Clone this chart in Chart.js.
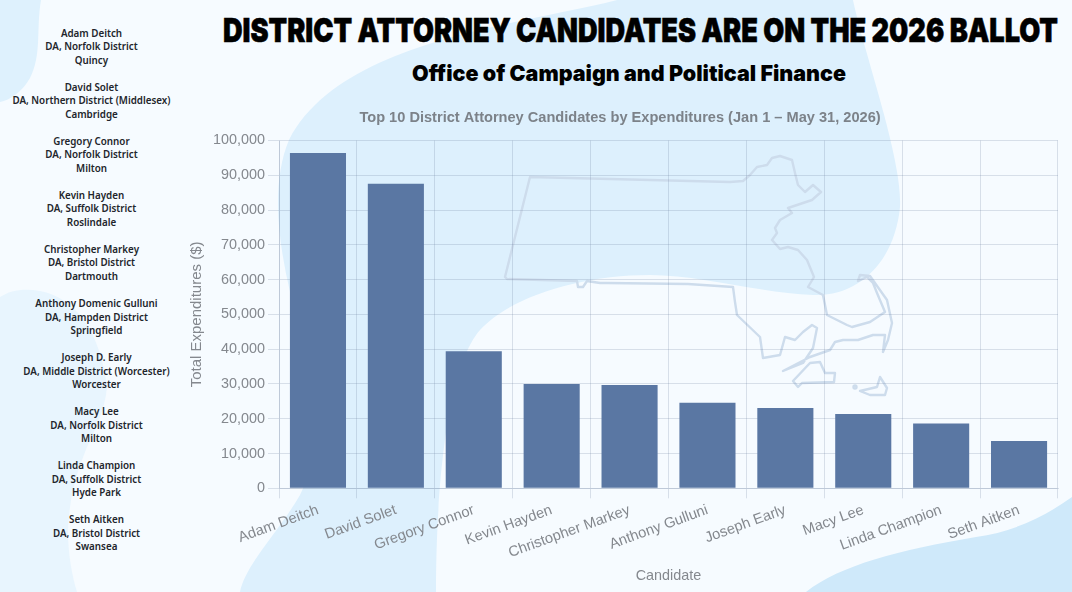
<!DOCTYPE html>
<html lang="en">

<head>
  <meta charset="UTF-8">
  <title>District Attorney Candidates</title>
  <style>
    html, body { margin: 0; padding: 0; }
    body { width: 1072px; height: 592px; overflow: hidden; position: relative; background: #f6fbff; }
    #backdrop { position: absolute; left: 0; top: 0; }
    #chartBox { position: absolute; left: 182px; top: 100px; width: 880px; height: 492px; }
    #roster { position: absolute; left: 0; top: 26.5px; width: 183px; text-align: center; font: 600 9.8px/13.55px "Noto Sans", sans-serif; color: #22252b; }
    #roster div { height: 54.1px; }
    #roster div:nth-child(n+6) { transform: translateX(5px); }
  </style>
</head>

<body>
  <svg id="backdrop" width="1072" height="592" viewBox="0 0 1072 592">
    <!-- background shapes -->
    <path fill="#ddf0fd" d="M617 0 C520 25 340 40 289 140 C268 190 280 260 300 330 C315 400 318 460 300 495 C280 530 245 565 240 592 L436 592 C436 500 445 370 480 330 C510 297 580 275 650 275 C700 275 760 293 813 295 C860 297 895 260 900 207 C902 170 880 100 861 33 C858 20 855 10 853 0 Z"/>
    <path fill="#def1fd" d="M0 0 L41 0 C36 30 42 55 30 78 C22 92 10 100 0 102 Z"/>
    <path fill="#e8f5fe" d="M0 297 C10 290 25 288 40 291 C75 298 100 330 107 387 C105 410 95 430 87 447 C78 470 70 490 68 530 C68 555 72 575 77 592 L0 592 Z"/>
    <path fill="#cfe9fa" d="M1072 497 C1040 520 1010 532 976 537 C900 550 840 565 806 592 L1072 592 Z"/>

    <!-- state outline -->
    <g fill="none" stroke="#cddcec" stroke-width="2.4" stroke-linejoin="round" stroke-linecap="round">
      <path d="M505 277 L530 177 L730 182 L743 181 L750 175 L757 167 L767 165 L772 158 L780 156 L792 160 L795 173 L798 185 L805 192 L813 185 L821 192 L812 200 L788 208 L792 213 L780 220 L775 228 L777 233 L772 240 L780 249 L788 247 L798 250 L807 260 L814 277 L808 287 L823 295 L827 315 L847 325 L852 327 L870 322 L885 312 L877 293 L873 283 L867 277 L858 281 L860 275 L870 276 L887 300 L892 323 L888 340 L883 352 L885 335 L873 335 L858 340 L843 340 L835 342 L830 350 L810 357 L783 371 L803 363 L813 348 L817 328 L812 325 L803 332 L795 340 L785 337 L780 355 L763 358 L760 337 L737 315 L735 302 L733 287 L688 284 L607 283 L600 283 L587 281 L583 287 L578 287 L577 281 L507 279 Z"/>
      <path d="M793 381 L810 363 L820 362 L825 373 L835 373 L834 382 L802 383 L798 387 Z"/>
      <path d="M860 391 L877 387 L880 377 L887 388 L885 395 L870 395 Z"/>
      <circle cx="855" cy="387" r="1.5"/>
    </g>

    <text x="223" y="42" textLength="835" lengthAdjust="spacingAndGlyphs" font-family="Inter" font-weight="900" font-size="33" fill="#000" stroke="#000" stroke-width="0.6">DISTRICT ATTORNEY CANDIDATES ARE ON THE 2026 BALLOT</text>
    <text x="412" y="81" textLength="434" lengthAdjust="spacingAndGlyphs" font-family="Inter" font-weight="900" font-size="22" fill="#000">Office of Campaign and Political Finance</text>
  </svg>

  <div id="roster"></div>

  <div id="chartBox">
    <canvas id="myChart" width="880" height="492"></canvas>
  </div>

  <script src="https://cdn.jsdelivr.net/npm/chart.js"></script>

  <script>
    const candidates = ['Adam Deitch', 'David Solet', 'Gregory Connor', 'Kevin Hayden', 'Christopher Markey', 'Anthony Gulluni', 'Joseph Early', 'Macy Lee', 'Linda Champion', 'Seth Aitken'];
    const expenditures = [96400, 87600, 39400, 30000, 29700, 24600, 23100, 21400, 18600, 13600];
    const yTicks = [0, 10000, 20000, 30000, 40000, 50000, 60000, 70000, 80000, 90000, 100000];

    const rosterNames = ['Adam Deitch', 'David Solet', 'Gregory Connor', 'Kevin Hayden', 'Christopher Markey', 'Anthony Domenic Gulluni', 'Joseph D. Early', 'Macy Lee', 'Linda Champion', 'Seth Aitken'];
    const rosterOffices = ['DA, Norfolk District', 'DA, Northern District (Middlesex)', 'DA, Norfolk District', 'DA, Suffolk District', 'DA, Bristol District', 'DA, Hampden District', 'DA, Middle District (Worcester)', 'DA, Norfolk District', 'DA, Suffolk District', 'DA, Bristol District'];
    const rosterTowns = ['Quincy', 'Cambridge', 'Milton', 'Roslindale', 'Dartmouth', 'Springfield', 'Worcester', 'Milton', 'Hyde Park', 'Swansea'];

    const roster = document.getElementById('roster');
    rosterNames.forEach((name, i) => {
      const item = document.createElement('div');
      item.innerHTML = name + '<br>' + rosterOffices[i] + '<br>' + rosterTowns[i];
      roster.appendChild(item);
    });

    const ctx = document.getElementById('myChart').getContext('2d');
    const gridColor = 'rgba(105, 125, 155, 0.22)';
    const textColor = '#84888e';
    const fontFamily = '"Liberation Sans", Arial, sans-serif';

    new Chart(ctx, {
      type: 'bar',
      data: {
        labels: candidates,
        datasets: [{
          label: 'Total Expenditures ($)',
          data: expenditures,
          backgroundColor: '#5a77a3',
          borderWidth: 0
        }]
      },
      options: {
        responsive: false,
        animation: false,
        layout: { padding: { left: 0, right: 4, top: 0, bottom: 7 } },
        plugins: {
          legend: { display: false },
          tooltip: { enabled: false },
          title: {
            display: true,
            text: 'Top 10 District Attorney Candidates by Expenditures (Jan 1 – May 31, 2026)',
            color: '#7c8289',
            font: { size: 14.6, weight: 'bold', family: fontFamily },
            padding: { top: 9, bottom: 14 }
          }
        },
        scales: {
          x: {
            grid: { color: gridColor, tickLength: 10 },
            border: { color: gridColor },
            ticks: { color: textColor, minRotation: 20, maxRotation: 20, autoSkip: false, padding: 3, font: { size: 14.7, family: fontFamily } },
            title: { display: true, text: 'Candidate', color: textColor, font: { size: 14.4, family: fontFamily }, padding: { top: 3, bottom: 0 } }
          },
          y: {
            min: 0,
            max: yTicks[yTicks.length - 1],
            afterBuildTicks: axis => { axis.ticks = yTicks.map(value => ({ value })); },
            grid: { color: gridColor, tickLength: 11 },
            border: { color: gridColor },
            ticks: { color: textColor, padding: 3, font: { size: 14.4, family: fontFamily } },
            title: { display: true, text: 'Total Expenditures ($)', color: textColor, font: { size: 15, family: fontFamily }, padding: { top: 6, bottom: 4 } }
          }
        }
      }
    });
  </script>
</body>

</html>
